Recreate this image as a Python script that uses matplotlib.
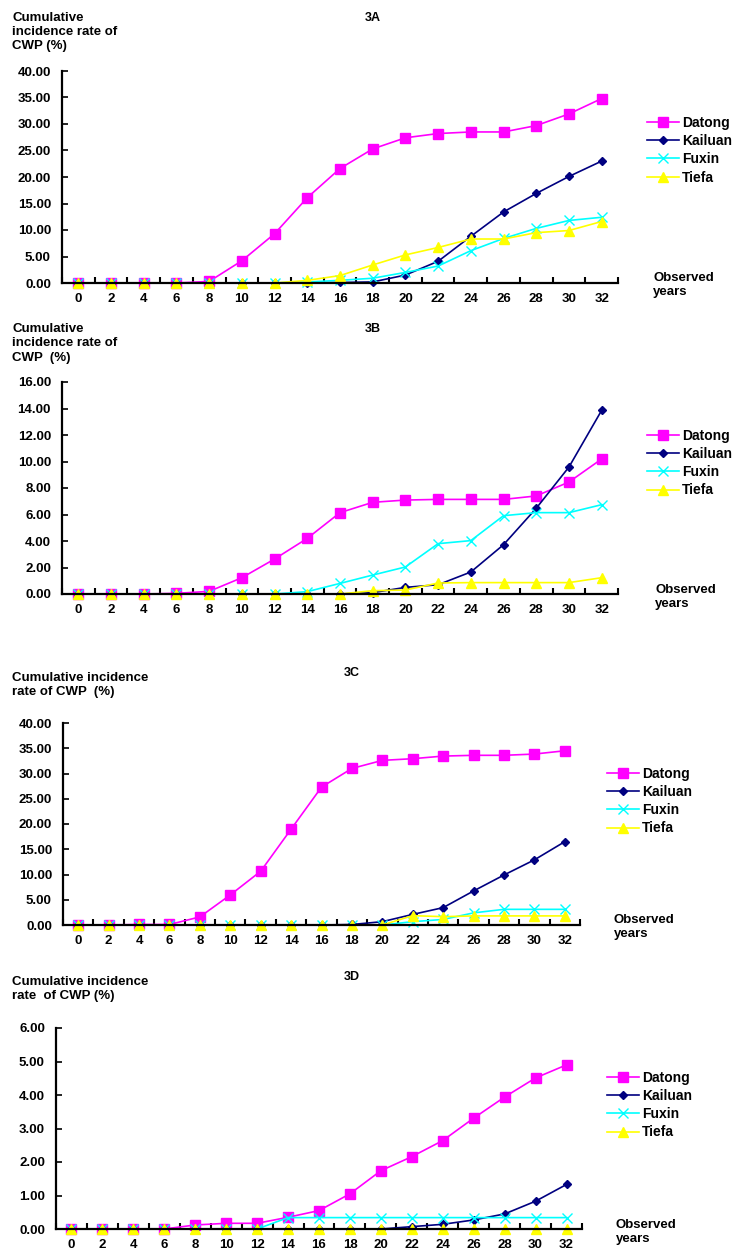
import matplotlib
matplotlib.use("Agg")
import matplotlib.pyplot as plt
import numpy as np

plt.rcParams['font.family'] = ['Liberation Sans', 'DejaVu Sans']
plt.rcParams['font.weight'] = 'bold'

years = [0, 2, 4, 6, 8, 10, 12, 14, 16, 18, 20, 22, 24, 26, 28, 30, 32]
series_names = ["Datong", "Kailuan", "Fuxin", "Tiefa"]

# Panel 3A
a_datong  = [0, 0, 0, 0, 0.3, 4.2, 9.3, 16.1, 21.6, 25.3, 27.4, 28.2, 28.5, 28.5, 29.7, 31.9, 34.8]
a_kailuan = [0, 0, 0, 0, 0, 0, 0, 0, 0.1, 0.2, 1.5, 4.1, 8.8, 13.4, 16.9, 20.1, 23.0]
a_fuxin   = [0, 0, 0, 0, 0, 0, 0, 0.2, 0.5, 0.9, 2.0, 3.2, 6.1, 8.4, 10.3, 11.8, 12.4]
a_tiefa   = [0, 0, 0, 0, 0, 0, 0, 0.5, 1.4, 3.4, 5.3, 6.7, 8.3, 8.3, 9.5, 9.9, 11.6]

# Panel 3B
b_datong  = [0, 0, 0, 0.05, 0.2, 1.23, 2.64, 4.2, 6.14, 6.92, 7.09, 7.14, 7.14, 7.14, 7.4, 8.45, 10.19]
b_kailuan = [0, 0, 0, 0, 0, 0, 0, 0, 0, 0.1, 0.5, 0.7, 1.66, 3.72, 6.47, 9.58, 13.86]
b_fuxin   = [0, 0, 0, 0, 0, 0, 0, 0.18, 0.8, 1.43, 2.04, 3.8, 4.03, 5.91, 6.14, 6.14, 6.74]
b_tiefa   = [0, 0, 0, 0, 0, 0, 0, 0, 0, 0.25, 0.3, 0.83, 0.86, 0.86, 0.86, 0.86, 1.23]

# Panel 3C
c_datong  = [0, 0, 0.1, 0.1, 1.6, 5.95, 10.64, 18.98, 27.3, 31.0, 32.6, 32.93, 33.45, 33.6, 33.6, 33.85, 34.5]
c_kailuan = [0, 0, 0, 0, 0, 0, 0, 0, 0, 0.1, 0.66, 2.1, 3.44, 6.74, 9.9, 12.9, 16.5]
c_fuxin   = [0, 0, 0, 0, 0, 0, 0, 0, 0, 0, 0, 0.66, 1.1, 2.4, 3.1, 3.1, 3.1]
c_tiefa   = [0, 0, 0, 0, 0, 0, 0, 0, 0, 0, 0, 1.85, 1.65, 1.8, 1.8, 1.8, 1.8]

# Panel 3D
d_datong  = [0, 0, 0, 0, 0.12, 0.17, 0.17, 0.35, 0.55, 1.05, 1.74, 2.16, 2.64, 3.31, 3.94, 4.51, 4.9]
d_kailuan = [0, 0, 0, 0, 0, 0, 0, 0, 0, 0, 0, 0.07, 0.14, 0.27, 0.45, 0.83, 1.33]
d_fuxin   = [0, 0, 0, 0, 0, 0, 0, 0.34, 0.34, 0.34, 0.34, 0.34, 0.34, 0.34, 0.34, 0.34, 0.34]
d_tiefa   = [0] * 17

panel_titles = ["3A", "3B", "3C", "3D"]
ylabels = ["Cumulative\nincidence rate of\nCWP (%)",
           "Cumulative\nincidence rate of\nCWP  (%)",
           "Cumulative incidence\nrate of CWP  (%)",
           "Cumulative incidence\nrate  of CWP (%)"]
ymaxes = [40, 16, 40, 6]
ysteps = [5, 2, 5, 1]
panel_data = [
    [a_datong, a_kailuan, a_fuxin, a_tiefa],
    [b_datong, b_kailuan, b_fuxin, b_tiefa],
    [c_datong, c_kailuan, c_fuxin, c_tiefa],
    [d_datong, d_kailuan, d_fuxin, d_tiefa],
]

W, H = 735, 1260
fig = plt.figure(figsize=(W / 100, H / 100), dpi=100)

def fx(px):
    return px / W

def fy(py):
    return 1 - py / H

# layout in pixels: (left, right, top, bottom)
boxes = [(62, 618, 71, 283), (62, 618, 382, 594), (63, 580, 723, 925), (56, 582, 1028, 1229)]
label_y = [12, 323, 672, 976]
title_pos = [(373, 18), (373, 329), (352, 673), (352, 977)]
legend_pos = [(647, 116), (647, 429), (607, 767), (607, 1071)]
obs_pos = [(653, 272), (655, 584), (614, 914), (616, 1219)]

styles = [
    dict(color="#FF00FF", marker="s", ms=6.5, mfc="#FF00FF", mec="#FF00FF"),
    dict(color="#000080", marker="D", ms=4.2, mfc="#000080", mec="#000080"),
    dict(color="#00FFFF", marker="x", ms=6.5, mew=1.0, mfc="#00FFFF", mec="#00FFFF"),
    dict(color="#FFFF00", marker="^", ms=7, mfc="#FFFF00", mec="#FFFF00"),
]

fs = 9.5
for i in range(4):
    l, r, t, b = boxes[i]
    ax = fig.add_axes([fx(l), fy(b), fx(r - l), fy(t) - fy(b)])
    for name, vals, st in zip(series_names, panel_data[i], styles):
        ax.plot(years, vals, lw=1.2, label=name, clip_on=False, **st)
    ax.set_xlim(-1, 33)
    ax.set_ylim(0, ymaxes[i])
    ax.set_xticks(years)
    ax.set_xticklabels([str(y) for y in years], fontsize=fs, fontweight='bold')
    ax.set_xticks(np.arange(-1, 34, 2), minor=True)
    ax.tick_params(axis='x', which='major', length=0, pad=7)
    ax.tick_params(axis='x', which='minor', length=4, width=1.5, direction='in')
    yt = np.arange(0, ymaxes[i] + 0.001, ysteps[i])
    ax.set_yticks(yt)
    ax.set_yticklabels([f"{v:.2f}" for v in yt], fontsize=fs, fontweight='bold')
    ax.tick_params(axis='y', length=4, width=1.2, direction='in', pad=8)
    for s in ("top", "right"):
        ax.spines[s].set_visible(False)
    for s in ("left", "bottom"):
        ax.spines[s].set_linewidth(1.6)
        ax.spines[s].set_color("black")
    ax.set_facecolor("none")

    fig.text(fx(12), fy(label_y[i]), ylabels[i], fontsize=fs, fontweight='bold',
             ha='left', va='top', linespacing=1.25)
    tx, ty = title_pos[i]
    fig.text(fx(tx), fy(ty), panel_titles[i], fontsize=fs - 0.5, fontweight='bold',
             ha='center', va='center')
    ox, oy = obs_pos[i]
    fig.text(fx(ox), fy(oy), "Observed\nyears", fontsize=fs, fontweight='bold',
             ha='left', va='top', linespacing=1.2)
    lx, ly = legend_pos[i]
    ax.legend(loc='upper left', bbox_to_anchor=(fx(lx), fy(ly)),
              bbox_transform=fig.transFigure, frameon=False,
              prop=dict(size=fs + 0.5, weight='bold'), handlelength=2.3,
              handletextpad=0.2, borderpad=0, borderaxespad=0, labelspacing=0.3)

fig.savefig("out.png", dpi=100)
